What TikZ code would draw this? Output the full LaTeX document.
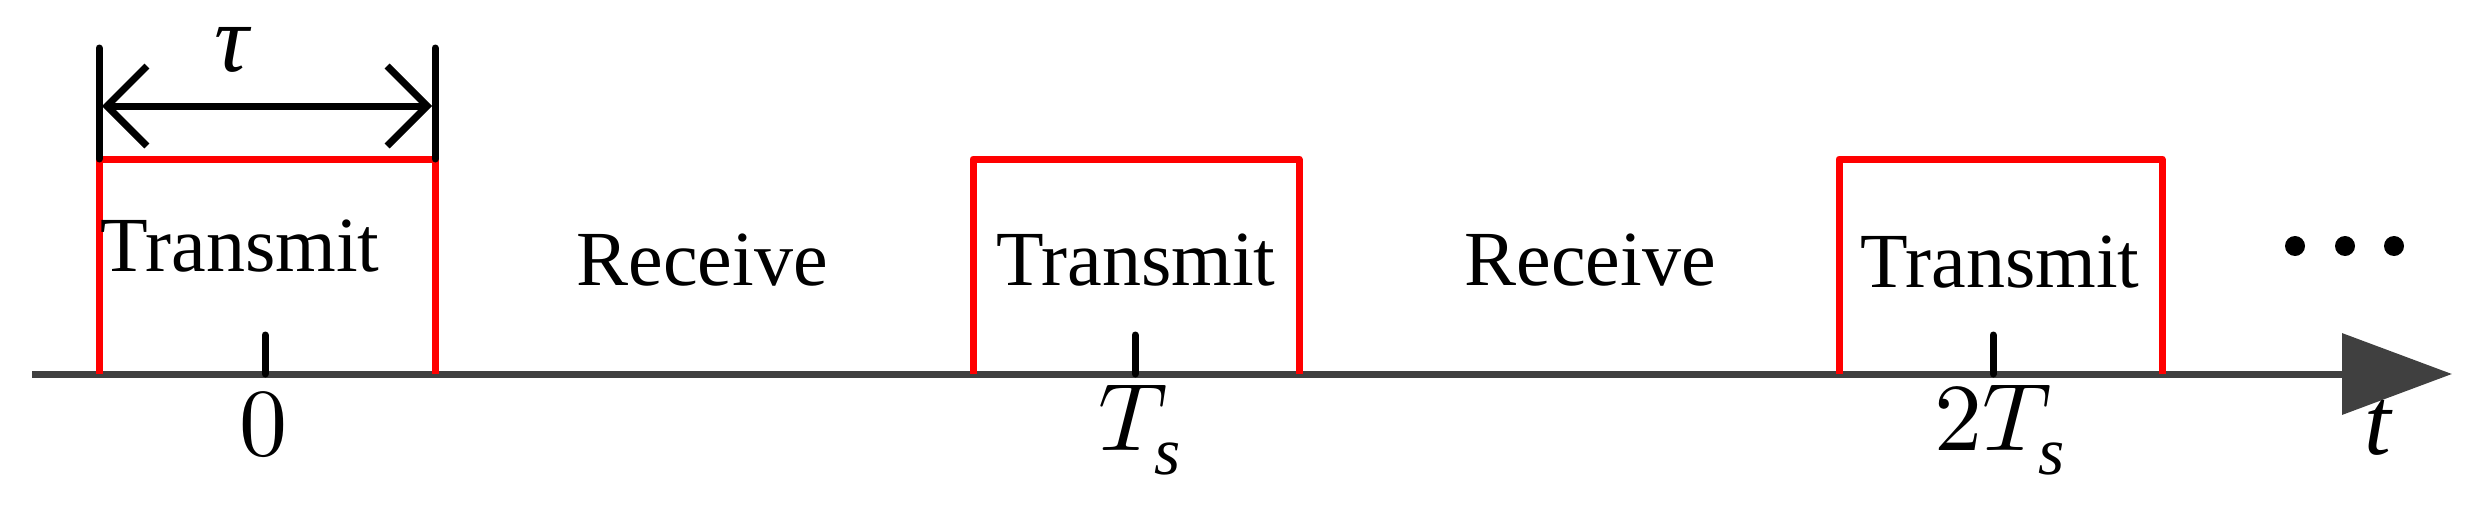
\documentclass[tikz,border=0pt]{standalone}
\usepackage{fontspec}
\usepackage{unicode-math}
\setmainfont{Liberation Serif}
\setmathfont{Latin Modern Math}
\setmathfont[range={it/{latin,greek}}]{Liberation Serif Italic}
\usetikzlibrary{arrows.meta}
\definecolor{axisgray}{RGB}{64,64,64}
\tikzset{
  pulse/.style={red, line width=7pt},
  bar/.style={black, line width=7pt},
  lbl/.style={font=\fontsize{78}{90}\selectfont, inner sep=0pt},
  mlbl/.style={font=\fontsize{96}{110}\selectfont, inner sep=0pt},
}
\begin{document}
\begin{tikzpicture}[x=1pt,y=-1pt]
\useasboundingbox (0,0) rectangle (2473,514);
% axis
\coordinate (a0) at (32,374);
\coordinate (a1) at (2452,374);
\draw[axisgray, line width=7pt, -{Triangle[length=110pt,width=80pt]}] (a0) -- (a1);
% pulses
\foreach \l/\r/\n in {99/435/1, 973/1299/2, 1839/2162/3}{
  \coordinate (p\n a) at (\l,374);
  \coordinate (p\n b) at (\l,159);
  \coordinate (p\n c) at (\r,159);
  \coordinate (p\n d) at (\r,374);
  \draw[pulse, line join=round] (p\n a) -- (p\n b) -- (p\n c) -- (p\n d);
}
% ticks
\foreach \x/\n in {265/1, 1135/2, 1993/3}{
  \coordinate (t\n a) at (\x,374);
  \coordinate (t\n b) at (\x,335);
  \draw[bar, line cap=round] (t\n a) -- (t\n b);
}
% tau marker
\coordinate (b1a) at (99,48); \coordinate (b1b) at (99,159);
\coordinate (b2a) at (435,48); \coordinate (b2b) at (435,159);
\draw[bar, line cap=round] (b1a) -- (b1b);
\draw[bar, line cap=round] (b2a) -- (b2b);
\coordinate (m1) at (102,106); \coordinate (m2) at (432,106);
\draw[bar, {Straight Barb[length=40pt,width=80pt,line width=7pt]}-{Straight Barb[length=40pt,width=80pt,line width=7pt]}] (m1) -- (m2);
\node[mlbl] (tau) at (232,50) {$\tau$};
% labels
\node[lbl] (tx1) at (240,246) {Transmit};
\node[lbl] (tx2) at (1136,260) {Transmit};
\node[lbl] (tx3) at (2000,262) {Transmit};
\node[lbl] (rx1) at (702,260) {Receive};
\node[lbl] (rx2) at (1590,260) {Receive};
\node[mlbl] (z) at (263,425) {$0$};
\node[mlbl] (ts) at (1140,430) {$T_s$};
\node[mlbl] (ts2) at (2000,430) {$2T_s$};
\node[mlbl] (t) at (2378,428) {$t$};
\foreach \x/\n in {2295/1,2345/2,2394/3}{
  \fill (\x,246) circle (10pt) coordinate (d\n);
}
\end{tikzpicture}
\end{document}
